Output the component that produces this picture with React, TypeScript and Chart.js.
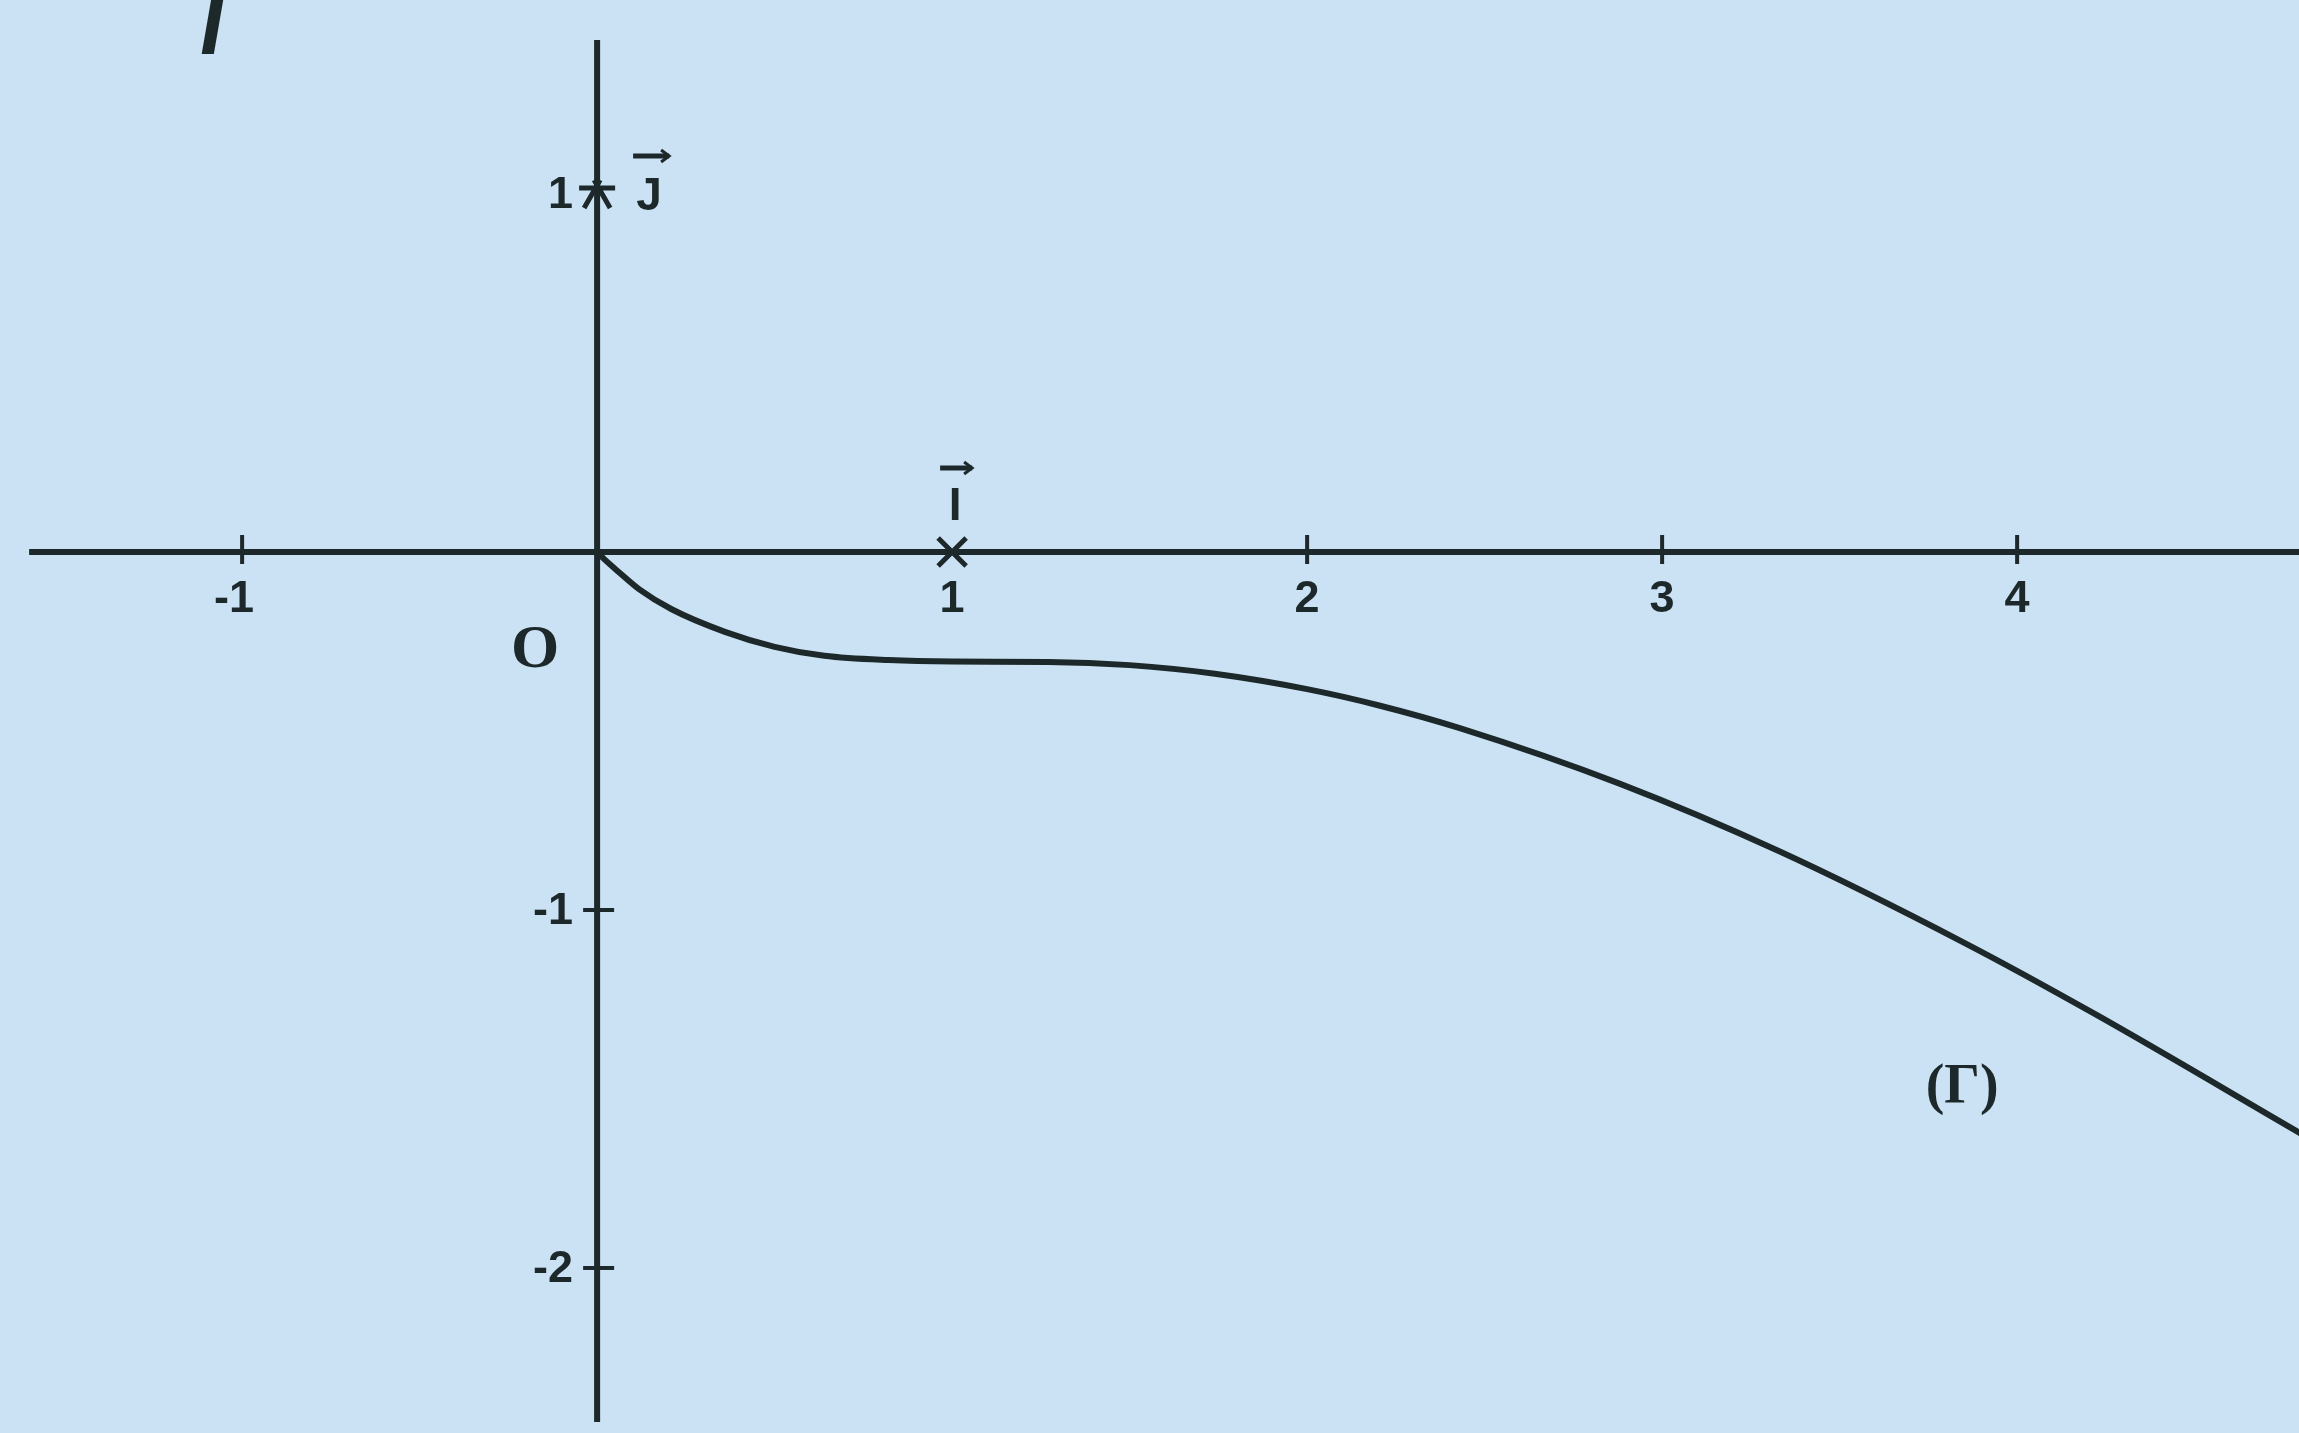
import React, { useEffect, useRef } from "react";
import { Chart, registerables } from "chart.js";

Chart.register(...registerables);

// ---- data ----
const curveX = [0, 0.02, 0.06, 0.12, 0.21, 0.36, 0.5, 0.64, 0.82, 1.0, 1.27, 1.5, 1.74, 2.0, 2.2, 2.43, 2.88, 3.33, 3.85, 4.22, 4.8];
const curveY = [0, -0.02, -0.055, -0.105, -0.16, -0.223, -0.265, -0.29, -0.302, -0.306, -0.307, -0.316, -0.34, -0.383, -0.428, -0.492, -0.647, -0.836, -1.091, -1.291, -1.625];

const xTickValues = [-1, 1, 2, 3, 4];
const xTickLabels = ["-1", "1", "2", "3", "4"];
const yTickValues = [1, -1, -2];
const yTickLabels = ["1", "-1", "-2"];

const X_MIN = -1.682;
const X_MAX = 4.794;
const Y_MIN = -2.461;
const Y_MAX = 1.542;
const AXIS_X_START = -1.6;
const AXIS_Y_TOP = 1.43;
const AXIS_Y_BOTTOM = -2.43;

const CURVE_NAME = "(Γ)";
const CURVE_NAME_AT = [3.845, -1.5];
const ORIGIN_NAME = "O";
const ORIGIN_NAME_AT = [-0.175, -0.268];
const FUNC_NAME = "f";

const BG = "#cae2f4";
const INK = "#1c2829";

const mathPlugin = {
  id: "mathPlugin",
  beforeDatasetsDraw(chart: any) {
    const { ctx, scales } = chart;
    const X = (v: number) => scales.x.getPixelForValue(v);
    const Y = (v: number) => scales.y.getPixelForValue(v);
    ctx.save();
    ctx.strokeStyle = INK;
    ctx.lineCap = "butt";
    ctx.lineWidth = 6;
    // x axis
    ctx.beginPath();
    ctx.moveTo(X(AXIS_X_START), Y(0));
    ctx.lineTo(X(X_MAX), Y(0));
    ctx.stroke();
    // y axis
    ctx.beginPath();
    ctx.moveTo(X(0), Y(AXIS_Y_TOP));
    ctx.lineTo(X(0), Y(AXIS_Y_BOTTOM));
    ctx.stroke();
    // tick marks
    ctx.lineWidth = 4;
    xTickValues.forEach((v) => {
      if (v === 1) return;
      ctx.beginPath();
      ctx.moveTo(X(v), Y(0) - 17);
      ctx.lineTo(X(v), Y(0) + 12);
      ctx.stroke();
    });
    yTickValues.forEach((v) => {
      if (v === 1) return;
      ctx.beginPath();
      ctx.moveTo(X(0) - 14, Y(v));
      ctx.lineTo(X(0) + 17, Y(v));
      ctx.stroke();
    });
    // cross mark at (1,0)
    const cx = X(1), cy = Y(0), r = 14;
    ctx.lineWidth = 5;
    ctx.beginPath();
    ctx.moveTo(cx - r, cy - r);
    ctx.lineTo(cx + r, cy + r);
    ctx.moveTo(cx + r, cy - r);
    ctx.lineTo(cx - r, cy + r);
    ctx.stroke();
    // star mark at (0,1)
    const sx = X(0), sy = Y(1);
    ctx.beginPath();
    ctx.moveTo(sx - 18, sy - 6);
    ctx.lineTo(sx + 18, sy - 6);
    ctx.moveTo(sx - 13, sy + 14);
    ctx.lineTo(sx + 3, sy - 14);
    ctx.moveTo(sx + 13, sy + 14);
    ctx.lineTo(sx - 3, sy - 14);
    ctx.stroke();
    ctx.restore();
  },
  afterDatasetsDraw(chart: any) {
    const { ctx, scales } = chart;
    const X = (v: number) => scales.x.getPixelForValue(v);
    const Y = (v: number) => scales.y.getPixelForValue(v);
    ctx.save();
    ctx.fillStyle = INK;
    ctx.strokeStyle = INK;
    // x tick labels
    ctx.font = 'bold 45px "Liberation Sans", Arial, sans-serif';
    ctx.textAlign = "center";
    ctx.textBaseline = "alphabetic";
    xTickValues.forEach((v, i) => {
      ctx.fillText(xTickLabels[i], X(v) - (v < 0 ? 8 : 0), Y(0) + 60);
    });
    // y tick labels
    ctx.textAlign = "right";
    ctx.textBaseline = "middle";
    yTickValues.forEach((v, i) => {
      ctx.fillText(yTickLabels[i], X(0) - 24, Y(v) + 2);
    });
    // origin label
    ctx.font = 'bold 62px "Liberation Serif", "DejaVu Serif", serif';
    ctx.textAlign = "center";
    ctx.textBaseline = "middle";
    ctx.fillText(ORIGIN_NAME, X(ORIGIN_NAME_AT[0]), Y(ORIGIN_NAME_AT[1]) + 3);
    // curve name
    ctx.font = 'bold 56px "Liberation Serif", "DejaVu Serif", serif';
    ctx.fillText(CURVE_NAME, X(CURVE_NAME_AT[0]), Y(CURVE_NAME_AT[1]));
    // vector i
    ctx.font = 'bold 46px "Liberation Sans", Arial, sans-serif';
    ctx.textBaseline = "alphabetic";
    ctx.fillText("I", X(1) + 3, Y(0) - 32);
    // vector j
    ctx.fillText("J", X(0) + 52, Y(1) + 16);
    const arrow = (x0: number, x1: number, yy: number) => {
      ctx.lineWidth = 5;
      ctx.beginPath();
      ctx.moveTo(x0, yy);
      ctx.lineTo(x1, yy);
      ctx.stroke();
      ctx.lineWidth = 3;
      ctx.beginPath();
      ctx.moveTo(x1 - 8, yy - 6);
      ctx.lineTo(x1, yy);
      ctx.lineTo(x1 - 8, yy + 6);
      ctx.stroke();
    };
    arrow(X(1) - 12, X(1) + 20, Y(0) - 84);
    arrow(X(0) + 36, X(0) + 72, Y(1) - 38);
    // function name (partially cut at the top)
    ctx.font = 'italic 150px "Liberation Serif", "DejaVu Serif", serif';
    ctx.textAlign = "left";
    ctx.fillText(FUNC_NAME, 200, 22);
    ctx.restore();
  },
};

export default function App() {
  const ref = useRef<HTMLCanvasElement | null>(null);
  useEffect(() => {
    if (!ref.current) return;
    const chart = new Chart(ref.current, {
      type: "scatter",
      data: {
        datasets: [
          {
            label: CURVE_NAME,
            data: curveX.map((x, i) => ({ x, y: curveY[i] })),
            showLine: true,
            borderColor: INK,
            borderWidth: 6,
            pointRadius: 0,
            cubicInterpolationMode: "monotone",
            fill: false,
          },
        ],
      },
      options: {
        animation: false,
        responsive: false,
        maintainAspectRatio: false,
        layout: { padding: 0 },
        plugins: { legend: { display: false }, tooltip: { enabled: false }, title: { display: false } },
        scales: {
          x: { type: "linear", min: X_MIN, max: X_MAX, display: false },
          y: { type: "linear", min: Y_MIN, max: Y_MAX, display: false },
        },
      },
      plugins: [mathPlugin],
    });
    return () => chart.destroy();
  }, []);
  return (
    <div style={{ position: "fixed", left: 0, top: 0, width: 2299, height: 1433, background: BG }}>
      <canvas ref={ref} width={2299} height={1433} style={{ display: "block", width: 2299, height: 1433 }} />
    </div>
  );
}
